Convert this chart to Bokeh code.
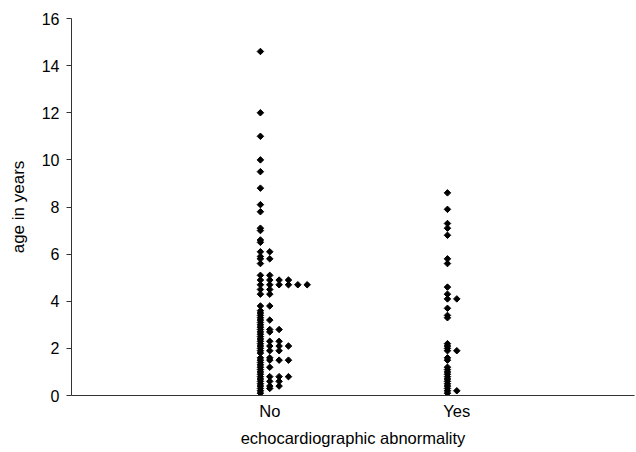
import math
from bokeh.plotting import figure
from bokeh.models import FixedTicker, ColumnDataSource
from bokeh.embed import file_html
from bokeh.resources import INLINE

categories = ["No", "Yes"]

ages_no = [
    14.6, 12.0, 11.0, 10.0, 9.5, 8.8, 8.1, 7.8, 7.1, 7.0, 6.6, 6.5,
    6.1, 6.1, 5.9, 5.8, 5.8, 5.6, 5.1, 5.1,
    4.9, 4.9, 4.9, 4.9,
    4.7, 4.7, 4.7, 4.7, 4.7, 4.7,
    4.5, 4.5, 4.3, 4.3, 3.8, 3.8, 3.6,
    3.5, 3.4, 3.3, 3.2, 3.2, 3.1, 3.0, 2.9,
    2.8, 2.8, 2.8, 2.7, 2.7, 2.6, 2.5, 2.4,
    2.3, 2.3, 2.3, 2.2, 2.1, 2.1, 2.1, 2.1, 2.0,
    1.9, 1.9, 1.9, 1.8, 1.6, 1.6,
    1.5, 1.5, 1.5, 1.5, 1.4, 1.3, 1.2, 1.2, 1.1, 1.0, 0.9,
    0.8, 0.8, 0.8, 0.8, 0.7, 0.6, 0.6, 0.6, 0.5,
    0.4, 0.4, 0.4, 0.3, 0.3, 0.2, 0.1,
]

ages_yes = [
    8.6, 7.9, 7.3, 7.1, 6.8, 5.8, 5.6, 4.6, 4.3, 4.1, 4.1, 3.7, 3.4, 3.3,
    2.2, 2.1, 2.0, 1.9, 1.9, 1.6, 1.5, 1.2, 1.1, 1.0, 0.9, 0.8, 0.7,
    0.6, 0.5, 0.4, 0.3, 0.2, 0.2, 0.1,
]

y_ticks = [0, 2, 4, 6, 8, 10, 12, 14, 16]

# dot-plot stacking: repeated values are placed side by side,
# starting a little left of the category label
STEP = 0.05
START = -0.05
xs, ys = [], []
for base, vals in ((1, ages_no), (2, ages_yes)):
    seen = {}
    for v in vals:
        k = round(v, 1)
        n = seen.get(k, 0)
        seen[k] = n + 1
        xs.append(base + START + STEP * n)
        ys.append(v)

src = ColumnDataSource(dict(x=xs, y=ys))

FONT = "Liberation Sans"

p = figure(width=636, height=452, x_range=(-0.06, 2.95), y_range=(0, 16),
           output_backend="svg", toolbar_location=None,
           min_border_left=71, min_border_right=2,
           min_border_top=18, min_border_bottom=57)
p.outline_line_color = None
p.xgrid.visible = False
p.ygrid.visible = False
p.background_fill_color = "white"

p.scatter("x", "y", source=src, marker="square", angle=math.pi / 4,
          size=4.6, fill_color="black", line_color="black")

ya = p.yaxis[0]
ya.ticker = FixedTicker(ticks=y_ticks)
ya.major_tick_out = 5
ya.major_tick_in = 0
ya.minor_tick_line_color = None
ya.axis_line_color = "#333333"
ya.major_tick_line_color = "#333333"
ya.major_label_text_font = FONT
ya.major_label_text_font_size = "16px"
ya.major_label_text_color = "black"
ya.major_label_standoff = 7
ya.axis_label = "age in years"
ya.axis_label_text_font = FONT
ya.axis_label_text_font_style = "normal"
ya.axis_label_text_font_size = "17px"
ya.axis_label_text_color = "black"
ya.axis_label_standoff = 11

xa = p.xaxis[0]
xa.ticker = FixedTicker(ticks=[1, 2])
xa.major_label_overrides = {1: categories[0], 2: categories[1]}
xa.major_tick_out = 0
xa.major_tick_in = 0
xa.minor_tick_line_color = None
xa.axis_line_color = "#333333"
xa.major_label_text_font = FONT
xa.major_label_text_font_size = "16.5px"
xa.major_label_text_color = "black"
xa.major_label_standoff = 6
xa.axis_label = "echocardiographic abnormality"
xa.axis_label_text_font = FONT
xa.axis_label_text_font_style = "normal"
xa.axis_label_text_font_size = "16.5px"
xa.axis_label_text_color = "black"
xa.axis_label_standoff = 6

open("out.html", "w").write(file_html(p, INLINE))
